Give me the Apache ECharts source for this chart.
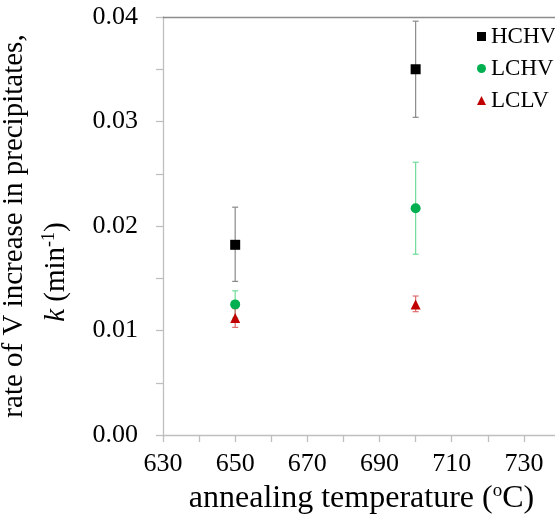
<!DOCTYPE html>
<html>
<head>
<meta charset="utf-8">
<script src="https://cdn.jsdelivr.net/npm/echarts@6/dist/echarts.min.js"></script>
<style>
html, body { margin: 0; padding: 0; background: #fff; }
#chart { width: 555px; height: 522px; }
</style>
</head>
<body>
<div id="chart"></div>
<script>
// annealing temperatures (oC)
var temps = [650, 700];
var seriesNames = ['HCHV', 'LCHV', 'LCLV'];
// rate k (min^-1), mean and error bar ends
var hchvMean = [0.0182, 0.0350];
var hchvLow = [0.0147, 0.0304];
var hchvHigh = [0.0218, 0.0396];
var lchvMean = [0.0125, 0.0217];
var lchvLow = [0.0112, 0.0173];
var lchvHigh = [0.0138, 0.0261];
var lclvMean = [0.0112, 0.0125];
var lclvLow = [0.0103, 0.0118];
var lclvHigh = [0.0121, 0.0133];

var font = 'Liberation Serif';
var axisGray = '#bfbfbf';

function errorSeries(name, low, high, color) {
    return {
        name: name + ' err',
        type: 'custom',
        silent: true,
        z: 1,
        data: temps.map(function (t, i) { return [t, low[i], high[i]]; }),
        renderItem: function (params, api) {
            var top = api.coord([api.value(0), api.value(2)]);
            var bot = api.coord([api.value(0), api.value(1)]);
            var w = 3;
            var style = { stroke: color, lineWidth: 1.2 };
            return {
                type: 'group',
                children: [
                    { type: 'line', shape: { x1: top[0], y1: top[1], x2: bot[0], y2: bot[1] }, style: style },
                    { type: 'line', shape: { x1: top[0] - w, y1: top[1], x2: top[0] + w, y2: top[1] }, style: style },
                    { type: 'line', shape: { x1: bot[0] - w, y1: bot[1], x2: bot[0] + w, y2: bot[1] }, style: style }
                ]
            };
        }
    };
}

function meanSeries(name, mean, symbol, color, size) {
    return {
        name: name,
        type: 'scatter',
        z: 3,
        symbol: symbol,
        symbolSize: size,
        itemStyle: { color: color, opacity: 1 },
        data: temps.map(function (t, i) { return [t, mean[i]]; })
    };
}

var chart = echarts.init(document.getElementById('chart'));
chart.setOption({
    animation: false,
    grid: { left: 163, right: -5, top: 17, bottom: 87, outerBoundsMode: 'none', containLabel: false },
    legend: {
        data: seriesNames,
        orient: 'vertical',
        left: 472,
        top: 20,
        itemWidth: 9,
        itemHeight: 9,
        itemGap: 9,
        textStyle: { fontFamily: font, fontSize: 23, color: '#000' }
    },
    xAxis: [{
        type: 'value',
        min: 630,
        max: 740,
        interval: 10,
        name: '{t|annealing temperature (}{s|o}{t|C)}',
        nameLocation: 'middle',
        nameGap: 44,
        nameTextStyle: {
            rich: {
                t: { fontFamily: font, fontSize: 32, color: '#000' },
                s: { fontFamily: font, fontSize: 19, color: '#000', padding: [0, 0, 14, 0] }
            }
        },
        axisLine: { show: true, lineStyle: { color: axisGray, width: 1.3 } },
        axisTick: { show: true, length: 7, lineStyle: { color: axisGray, width: 1.3 } },
        splitLine: { show: false },
        axisLabel: {
            fontFamily: font, fontSize: 26, color: '#000', margin: 16,
            showMaxLabel: false,
            formatter: function (v) { return ((v - 630) % 20 === 0 && v <= 730) ? String(v) : ''; }
        }
    }, {
        type: 'value',
        position: 'top',
        min: 630,
        max: 740,
        axisLine: { show: true, lineStyle: { color: '#8c8c8c', width: 1.3 } },
        axisTick: { show: false },
        axisLabel: { show: false },
        splitLine: { show: false }
    }],
    yAxis: {
        type: 'value',
        min: 0,
        max: 0.04,
        interval: 0.005,
        name: '{t|rate of V increase in precipitates,}\n{i|k}{t| (min}{s|-1}{t|)}{pad|}',
        nameLocation: 'middle',
        nameRotate: 90,
        nameGap: 86,
        nameTextStyle: {
            lineHeight: 42,
            rich: {
                t: { fontFamily: font, fontSize: 29, color: '#000', lineHeight: 42 },
                i: { fontFamily: font, fontSize: 29, fontStyle: 'italic', color: '#000', lineHeight: 42 },
                s: { fontFamily: font, fontSize: 18, color: '#000', padding: [0, 0, 13, 0] },
                pad: { width: 92 }
            }
        },
        axisLine: { show: true, lineStyle: { color: axisGray, width: 1.3 } },
        axisTick: { show: true, length: 7, lineStyle: { color: axisGray, width: 1.3 } },
        splitLine: { show: false },
        axisLabel: {
            fontFamily: font, fontSize: 26, color: '#000', margin: 25,
            formatter: function (v) { return Math.round(v * 1000) % 10 === 0 ? v.toFixed(2) : ''; }
        }
    },
    series: [
        errorSeries('HCHV', hchvLow, hchvHigh, '#8a8a8a'),
        errorSeries('LCHV', lchvLow, lchvHigh, '#6fdc98'),
        errorSeries('LCLV', lclvLow, lclvHigh, '#e06a6a'),
        meanSeries('HCHV', hchvMean, 'rect', '#000000', 10),
        meanSeries('LCHV', lchvMean, 'circle', '#00b050', 10),
        meanSeries('LCLV', lclvMean, 'triangle', '#c00000', 10)
    ]
});
</script>
</body>
</html>
